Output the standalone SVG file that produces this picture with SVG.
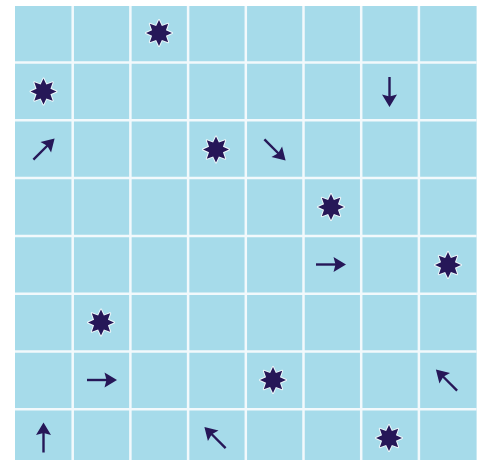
<svg xmlns="http://www.w3.org/2000/svg" xmlns:xlink="http://www.w3.org/1999/xlink" width="489" height="460" viewBox="0 0 489 460">
<style>
.bg{fill:#a6dbea}
.gl{stroke:#f2f9fc;stroke-width:2.5;fill:none}
.star{fill:#261758;stroke:#eef8fb;stroke-width:2;paint-order:stroke;stroke-linejoin:round}
.shaft{stroke:#261758;stroke-width:2.4;fill:none}
.head{fill:#261758}
</style>
<defs>
<path id="star" class="star" d="M0,-13 L2.87,-6.93 L9.19,-9.19 L6.93,-2.87 L13,0 L6.93,2.87 L9.19,9.19 L2.87,6.93 L0,13 L-2.87,6.93 L-9.19,9.19 L-6.93,2.87 L-13,0 L-6.93,-2.87 L-9.19,-9.19 L-2.87,-6.93 Z"/>
<g id="arrow">
<line class="shaft" x1="-15" y1="0" x2="6" y2="0"/>
<path class="head" d="M15,0 L2.5,-7.5 L4.5,0 L2.5,7.5 Z"/>
</g>
</defs>
<rect width="489" height="460" fill="#ffffff"/>
<g id="grid">
<rect class="bg" x="15" y="6" width="461.6" height="454"/>
<path class="gl" d="M72.7,6V460 M130.4,6V460 M188.1,6V460 M245.8,6V460 M303.5,6V460 M361.2,6V460 M418.9,6V460 M15,62.5H476.6 M15,120.3H476.6 M15,178.1H476.6 M15,235.9H476.6 M15,293.7H476.6 M15,351.5H476.6 M15,409.3H476.6"/>
</g>
<g id="star-r0c2"><use xlink:href="#star" transform="translate(159,33)"/></g>
<g id="star-r1c0"><use xlink:href="#star" transform="translate(43.5,91.5)"/></g>
<g id="arrow-r1c6"><use xlink:href="#arrow" transform="translate(389.5,92) rotate(90)"/></g>
<g id="arrow-r2c0"><use xlink:href="#arrow" transform="translate(44,149) rotate(-45)"/></g>
<g id="star-r2c3"><use xlink:href="#star" transform="translate(216,149.5)"/></g>
<g id="arrow-r2c4"><use xlink:href="#arrow" transform="translate(275,150) rotate(45)"/></g>
<g id="star-r3c5"><use xlink:href="#star" transform="translate(331,207)"/></g>
<g id="arrow-r4c5"><use xlink:href="#arrow" transform="translate(331,264.5)"/></g>
<g id="star-r4c7"><use xlink:href="#star" transform="translate(448,265)"/></g>
<g id="star-r5c1"><use xlink:href="#star" transform="translate(101,322.5)"/></g>
<g id="arrow-r6c1"><use xlink:href="#arrow" transform="translate(102,380)"/></g>
<g id="star-r6c4"><use xlink:href="#star" transform="translate(273,380)"/></g>
<g id="arrow-r6c7"><use xlink:href="#arrow" transform="translate(446.5,380) rotate(-135)"/></g>
<g id="arrow-r7c0"><use xlink:href="#arrow" transform="translate(43.5,437.5) rotate(-90)"/></g>
<g id="arrow-r7c3"><use xlink:href="#arrow" transform="translate(215,437.5) rotate(-135)"/></g>
<g id="star-r7c6"><use xlink:href="#star" transform="translate(389,438)"/></g>
</svg>
